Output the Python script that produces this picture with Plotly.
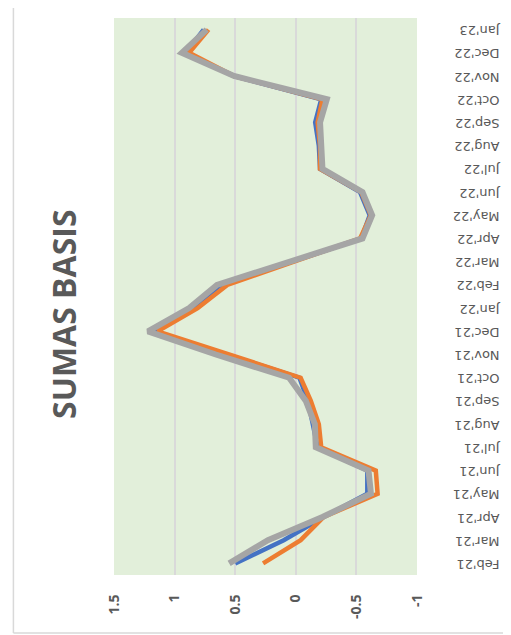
import plotly.graph_objects as go

categories = ["Feb'21", "Mar'21", "Apr'21", "May'21", "Jun'21", "Jul'21", "Aug'21", "Sep'21",
              "Oct'21", "Nov'21", "Dec'21", "Jan'22", "Feb'22", "Mar'22", "Apr'22", "May'22",
              "Jun'22", "Jul'22", "Aug'22", "Sep'22", "Oct'22", "Nov'22", "Dec'22", "Jan'23"]

serie_azul = [0.50, 0.10, -0.23, -0.59, -0.59, -0.18, -0.14, -0.10, -0.03, 0.58, 1.17, 0.84,
              0.62, 0.03, -0.54, -0.61, -0.53, -0.20, -0.19, -0.16, -0.21, 0.51, 0.91, 0.76]
serie_naranja = [0.27, -0.04, -0.23, -0.675, -0.66, -0.21, -0.19, -0.124, -0.04, 0.56, 1.14, 0.81,
                 0.565, 0.015, -0.53, -0.62, -0.54, -0.20, -0.20, -0.18, -0.22, 0.51, 0.88, 0.72]
serie_gris = [0.55, 0.23, -0.22, -0.62, -0.60, -0.165, -0.157, -0.083, 0.055, 0.66, 1.22, 0.88,
              0.65, 0.04, -0.55, -0.63, -0.55, -0.22, -0.207, -0.20, -0.256, 0.51, 0.94, 0.735]

value_ticks = [1.5, 1, 0.5, 0, -0.5, -1]
value_tick_text = ["1.5", "1", "0.5", "0", "-0.5", "-1"]

title_text = "SUMAS BASIS"

fig = go.Figure()
for vals, color, width in [(serie_azul, "#4472C4", 4.5),
                           (serie_naranja, "#ED7D31", 4.5),
                           (serie_gris, "#A5A5A5", 6)]:
    fig.add_trace(go.Scatter(x=vals, y=categories, mode="lines",
                             line=dict(color=color, width=width),
                             showlegend=False))

grey_txt = "#595959"
# the page body has an 8px margin, so the figure starts at (8, 8) on screen
fig.update_layout(
    width=511, height=635,
    margin=dict(l=106, r=102, t=10, b=68),
    paper_bgcolor="white",
    plot_bgcolor="#E2EFDA",
    xaxis=dict(range=[1.5, -1], tickvals=value_ticks, ticktext=value_tick_text,
               tickangle=-90, showgrid=True, gridcolor="#D9D9D9", gridwidth=1.5,
               zeroline=False, showline=False, automargin=False,
               ticks="outside", ticklen=13, tickcolor="rgba(0,0,0,0)",
               tickfont=dict(family="Open Sans", size=14, color=grey_txt, weight="bold")),
    yaxis=dict(type="category", categoryorder="array", categoryarray=categories,
               range=[-0.5, 23.5], side="right", tickangle=180,
               showgrid=False, zeroline=False, showline=False, automargin=False,
               ticks="outside", ticklen=79, tickcolor="rgba(0,0,0,0)",
               ticklabelshift=5,
               tickfont=dict(family="DejaVu Sans", size=13, color=grey_txt)),
    annotations=[dict(text=title_text, xref="paper", yref="paper", x=-0.165, y=0.467,
                      xanchor="center", yanchor="middle",
                      textangle=-90, showarrow=False,
                      font=dict(family="Open Sans", size=32, color=grey_txt, weight="bold"))],
    shapes=[
        dict(type="line", xref="paper", yref="paper", x0=-0.332, x1=-0.332, y0=-0.104, y1=1.05,
             line=dict(color="#D9D9D9", width=1.5)),
        dict(type="line", xref="paper", yref="paper", x0=-0.332, x1=1.35, y0=-0.104, y1=-0.104,
             line=dict(color="#D9D9D9", width=1.5)),
    ],
)

fig.write_html("out.html")
